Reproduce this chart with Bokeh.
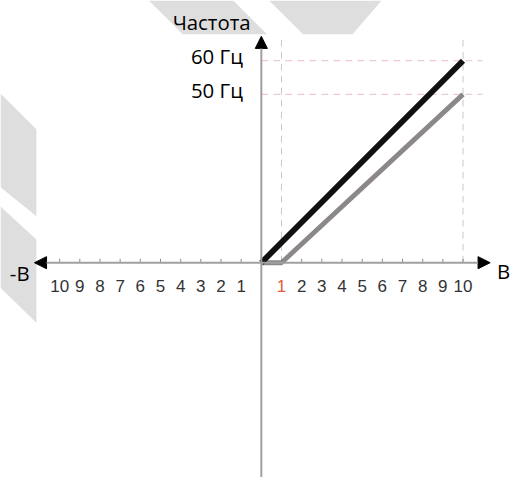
from bokeh.plotting import figure
from bokeh.models import Arrow, NormalHead
from bokeh.core.properties import value
from bokeh.embed import file_html
from bokeh.resources import INLINE

# ---------------- data ----------------
volt_black = [0, 10]
freq_black = [0, 60]
volt_gray = [0, 1, 10]
freq_gray = [0, 0, 50]
bias_volt = 1

pos_ticks = [1, 2, 3, 4, 5, 6, 7, 8, 9, 10]
pos_labels = ["1", "2", "3", "4", "5", "6", "7", "8", "9", "10"]
neg_ticks = [-10, -9, -8, -7, -6, -5, -4, -3, -2, -1]
neg_labels = ["10", "9", "8", "7", "6", "5", "4", "3", "2", "1"]

freq_marks = [60, 50]
freq_labels = ["60 Гц", "50 Гц"]
volt_marks = [1, 10]

y_title = "Частота"
x_pos_title = "B"
x_neg_title = "-B"

# ---------------- geometry ----------------
REF_W, REF_H = 527, 493   # reference picture size
W, H = 511, 477           # figure size (fits page with 8px margin)
S = W / REF_W             # pixel scale for sizes
OX, OY = 269, 271         # origin in reference px
PXV, PXH = 20.8, 3.48     # reference px per volt, per Hz


def dx(sx):
    return (sx - OX) / PXV


def dy(sy):
    return (OY - sy) / PXH


def px(v):
    return v * S


p = figure(width=W, height=H, output_backend="svg", toolbar_location=None,
           x_range=(dx(0), dx(REF_W)), y_range=(dy(REF_H), dy(0)),
           x_axis_location=None, y_axis_location=None,
           min_border=0, outline_line_color=None,
           background_fill_color="white", border_fill_color="white")
p.grid.visible = False

# background watermark shapes (reference px)
wm = [
    [(153, 0), (240, 0), (275, 35), (188, 35)],
    [(277, 0), (393, 0), (363, 35), (312, 35)],
    [(0, 96), (37, 133), (37, 223), (0, 193)],
    [(0, 213), (37, 247), (37, 333), (0, 297)],
]
p.patches(xs=[[dx(a) for a, b in poly] for poly in wm],
          ys=[[dy(b) for a, b in poly] for poly in wm],
          fill_color="#dedede", line_color=None)

# dashed guides
top_guide = dy(40)
right_guide = dx(497)
p.segment(x0=volt_marks, y0=[0] * len(volt_marks), x1=volt_marks,
          y1=[top_guide] * len(volt_marks),
          line_color="#c9c9c9", line_width=1, line_dash="7 5")
p.segment(x0=[0] * len(freq_marks), y0=freq_marks,
          x1=[right_guide] * len(freq_marks), y1=freq_marks,
          line_color="#ecbfc8", line_width=1, line_dash="7 5")

# axes with arrows
axis_col = "#a0a0a0"
head = dict(size=px(12.5), fill_color="black", line_color="black")
p.add_layout(Arrow(end=NormalHead(**head),
                   x_start=0, y_start=0, x_end=dx(505), y_end=0,
                   line_color=axis_col, line_width=2))
p.add_layout(Arrow(end=NormalHead(**head),
                   x_start=0, y_start=0, x_end=dx(35), y_end=0,
                   line_color=axis_col, line_width=2))
p.add_layout(Arrow(end=NormalHead(**head),
                   x_start=0, y_start=dy(REF_H + 5), x_end=0, y_end=dy(37),
                   line_color=axis_col, line_width=2))

# tick marks
all_ticks = neg_ticks + pos_ticks
tick_len = 4 / PXH
p.segment(x0=all_ticks, y0=[0] * len(all_ticks), x1=all_ticks,
          y1=[tick_len] * len(all_ticks), line_color="#8a8a8a", line_width=1)

# tick labels
tick_font = value("Liberation Sans")
tick_size = f"{px(17.5):.1f}px"
p.text(x=neg_ticks, y=[0] * len(neg_ticks), text=neg_labels,
       text_font=tick_font, text_font_size=tick_size, text_color="#333333",
       text_align="center", text_baseline="alphabetic", y_offset=px(24))
pos_colors = ["#e0603c" if t == bias_volt else "#333333" for t in pos_ticks]
p.text(x=pos_ticks, y=[0] * len(pos_ticks), text=pos_labels,
       text_font=tick_font, text_font_size=tick_size, text_color=pos_colors,
       text_align="center", text_baseline="alphabetic", y_offset=px(24))

# curves
p.line(volt_gray, freq_gray, line_color="#8c8889", line_width=px(5))
p.line(volt_black, freq_black, line_color="#111111", line_width=px(6))

# frequency labels
lab_font = value("Open Sans")
lab_size = f"{px(21):.1f}px"
p.text(x=[0] * len(freq_marks), y=freq_marks, text=freq_labels,
       text_font=lab_font, text_font_size=lab_size, text_color="black",
       text_align="right", text_baseline="middle", x_offset=-px(19),
       y_offset=-px(5))

# axis titles
p.text(x=[0], y=[dy(37)], text=[y_title], text_font=lab_font,
       text_font_size=lab_size, text_color="black", text_align="right",
       text_baseline="middle", x_offset=-px(11), y_offset=-px(15))
p.text(x=[dx(505)], y=[0], text=[x_pos_title], text_font=lab_font,
       text_font_size=lab_size, text_color="black", text_align="left",
       text_baseline="middle", x_offset=px(7), y_offset=px(9))
p.text(x=[dx(35)], y=[0], text=[x_neg_title], text_font=lab_font,
       text_font_size=lab_size, text_color="black", text_align="right",
       text_baseline="middle", x_offset=-px(5), y_offset=px(11))

open("out.html", "w").write(file_html(p, INLINE))
